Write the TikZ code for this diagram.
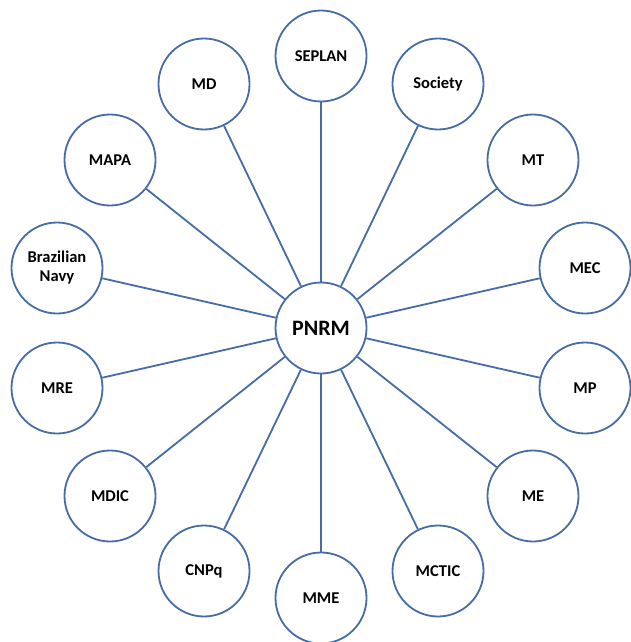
\documentclass[tikz,border=0pt]{standalone}
\usepackage{fontspec}
\setmainfont{Carlito}
\definecolor{spoke}{RGB}{70,108,166}
\begin{document}
\begin{tikzpicture}[x=1pt,y=-1pt]
  \tikzstyle{node}=[circle, draw=spoke, line width=1.8pt, minimum size=91pt, inner sep=0pt, fill=white, align=center, font=\bfseries\fontsize{16.5}{19}\selectfont]
  \tikzstyle{hub}=[node, font=\bfseries\fontsize{22}{25}\selectfont]
  \tikzstyle{link}=[draw=spoke, line width=1.8pt]

  \useasboundingbox (0,0) rectangle (630,642);

  \node[hub]  (pnrm) at (321, 328) {PNRM};

  \node[node] (s1)  at (321,  56) {SEPLAN};
  \node[node] (s2)  at (438,  84) {Society};
  \node[node] (s3)  at (533, 160) {MT};
  \node[node] (s4)  at (585, 268) {MEC};
  \node[node] (s5)  at (585, 388) {MP};
  \node[node] (s6)  at (533, 496) {ME};
  \node[node] (s7)  at (438, 571) {MCTIC};
  \node[node] (s8)  at (321, 598) {MME};
  \node[node] (s9)  at (204, 571) {CNPq};
  \node[node] (s10) at (110, 496) {MDIC};
  \node[node] (s11) at (57,  388) {MRE};
  \node[node] (s12) at (57,  268) {Brazilian\\Navy};
  \node[node] (s13) at (110, 160) {MAPA};
  \node[node] (s14) at (204,  84) {MD};

  \path (pnrm) edge[link] (s1);
  \path (pnrm) edge[link] (s2);
  \path (pnrm) edge[link] (s3);
  \path (pnrm) edge[link] (s4);
  \path (pnrm) edge[link] (s5);
  \path (pnrm) edge[link] (s6);
  \path (pnrm) edge[link] (s7);
  \path (pnrm) edge[link] (s8);
  \path (pnrm) edge[link] (s9);
  \path (pnrm) edge[link] (s10);
  \path (pnrm) edge[link] (s11);
  \path (pnrm) edge[link] (s12);
  \path (pnrm) edge[link] (s13);
  \path (pnrm) edge[link] (s14);

\end{tikzpicture}
\end{document}
